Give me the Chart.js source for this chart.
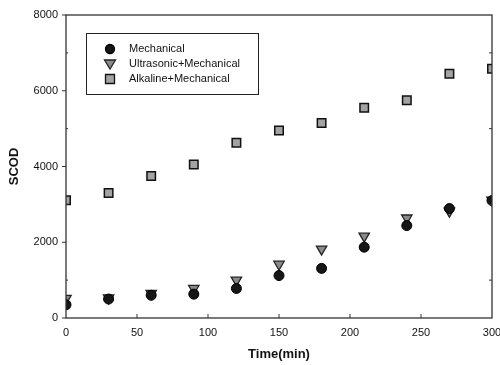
<!DOCTYPE html>
<html><head><meta charset="utf-8">
<script src="https://cdn.jsdelivr.net/npm/chart.js@4"></script>
<style>html,body{margin:0;padding:0;background:#fff}#wrap{width:500px;height:365px}</style>
</head><body><div id="wrap"><canvas id="c"></canvas></div>
<script>
const times = [0, 30, 60, 90, 120, 150, 180, 210, 240, 270, 300];
const mechanical = [350, 500, 600, 630, 780, 1120, 1310, 1870, 2440, 2890, 3100];
const ultrasonic = [520, 530, 650, 780, 1000, 1420, 1820, 2160, 2640, 2820, 3110];
const alkaline = [3110, 3300, 3750, 4050, 4630, 4950, 5150, 5550, 5750, 6450, 6580];
const seriesNames = ["Mechanical", "Ultrasonic+Mechanical", "Alkaline+Mechanical"];
const xTicks = [0, 50, 100, 150, 200, 250, 300];
const yTicks = [0, 2000, 4000, 6000, 8000];

const pts = arr => times.map((t, i) => ({x: t, y: arr[i]}));
const FONT = "Liberation Sans, Arial, sans-serif";

const framePlugin = {
  id: 'frame',
  afterDatasetsDraw(chart) {
    const {ctx, chartArea: a, scales} = chart;
    ctx.save();
    ctx.strokeStyle = '#333';
    ctx.lineWidth = 1.3;
    ctx.strokeRect(a.left, a.top, a.right - a.left, a.bottom - a.top);
    ctx.lineWidth = 1;
    for (let v = 0; v <= 8000; v += 1000) {
      const y = scales.y.getPixelForValue(v);
      if (v % 2000 === 0) {
        ctx.beginPath(); ctx.moveTo(a.left - 4, y); ctx.lineTo(a.left, y); ctx.stroke();
      } else {
        ctx.beginPath(); ctx.moveTo(a.left, y); ctx.lineTo(a.left + 2, y); ctx.stroke();
        ctx.beginPath(); ctx.moveTo(a.right, y); ctx.lineTo(a.right - 3, y); ctx.stroke();
      }
    }
    for (let v = 50; v < 300; v += 50) {
      const x = scales.x.getPixelForValue(v);
      ctx.beginPath(); ctx.moveTo(x, a.bottom); ctx.lineTo(x, a.bottom - 4); ctx.stroke();
    }
    const lx = 86, ly = 33, lw = 172, lh = 61;
    ctx.fillStyle = '#fff';
    ctx.fillRect(lx, ly, lw, lh);
    ctx.strokeStyle = '#222';
    ctx.lineWidth = 1;
    ctx.strokeRect(lx + 0.5, ly + 0.5, lw, lh);
    const rows = [49, 64, 79];
    chart.data.datasets.forEach((ds, i) => {
      const cx = 110, cy = rows[i];
      ctx.save();
      ctx.fillStyle = ds.backgroundColor;
      ctx.strokeStyle = ds.borderColor;
      ctx.lineWidth = 1.3;
      ctx.beginPath();
      if (ds.pointStyle === 'circle') {
        ctx.arc(cx, cy, 4.5, 0, Math.PI * 2);
      } else if (ds.pointStyle === 'triangle') {
        ctx.moveTo(cx - 5.5, cy - 4); ctx.lineTo(cx + 5.5, cy - 4); ctx.lineTo(cx, cy + 5); ctx.closePath();
      } else {
        ctx.rect(cx - 4.5, cy - 4.5, 9, 9);
      }
      ctx.fill(); ctx.stroke();
      ctx.restore();
      ctx.fillStyle = '#111';
      ctx.font = '11px ' + FONT;
      ctx.textBaseline = 'middle';
      ctx.fillText(ds.label, 129, cy);
    });
    ctx.restore();
  }
};

new Chart(document.getElementById('c'), {
  type: 'scatter',
  data: {
    datasets: [
      {label: seriesNames[0], data: pts(mechanical), pointStyle: 'circle', pointRadius: 5,
       backgroundColor: '#161616', borderColor: '#000', borderWidth: 1},
      {label: seriesNames[1], data: pts(ultrasonic), pointStyle: 'triangle', pointRadius: 6, rotation: 180,
       backgroundColor: '#8a8a8a', borderColor: '#222', borderWidth: 1.3},
      {label: seriesNames[2], data: pts(alkaline), pointStyle: 'rect', pointRadius: 6,
       backgroundColor: '#a3a3a3', borderColor: '#111', borderWidth: 1.5}
    ]
  },
  options: {
    responsive: true, maintainAspectRatio: false, animation: false,
    layout: {padding: {top: 15, right: 8, left: 0, bottom: 0}},
    plugins: {legend: {display: false}, tooltip: {enabled: false}},
    scales: {
      x: {
        type: 'linear', min: 0, max: 300,
        afterBuildTicks: s => { s.ticks = xTicks.map(v => ({value: v})); },
        afterFit: s => { s.height = 47; s.paddingLeft = 0; s.paddingRight = 0; },
        grid: {display: false},
        border: {display: false},
        ticks: {color: '#111', font: {family: FONT, size: 11}, padding: 0, maxRotation: 0,
                callback: v => String(v)},
        title: {display: true, text: 'Time(min)', color: '#111', font: {family: FONT, size: 13, weight: 'bold'}, padding: {top: 2, bottom: 3}}
      },
      y: {
        type: 'linear', min: 0, max: 8000,
        afterBuildTicks: s => { s.ticks = yTicks.map(v => ({value: v})); },
        afterFit: s => { s.width = 66; s.paddingTop = 0; s.paddingBottom = 0; },
        grid: {display: false},
        border: {display: false},
        ticks: {color: '#111', font: {family: FONT, size: 11}, padding: 0, callback: v => String(v)},
        title: {display: true, text: 'SCOD', color: '#111', font: {family: FONT, size: 13, weight: 'bold'}, padding: {top: 7, bottom: 0}}
      }
    }
  },
  plugins: [framePlugin]
});
</script></body></html>
